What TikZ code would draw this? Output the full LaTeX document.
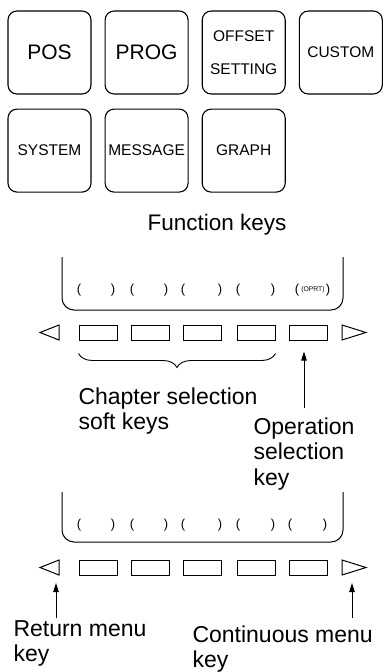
\documentclass[tikz,border=0pt]{standalone}
\usepackage{fontspec}
\setmainfont{Liberation Sans}
\usetikzlibrary{positioning,arrows.meta,decorations.pathreplacing}

\begin{document}
\begin{tikzpicture}[
    x=1pt, y=-1pt,
    line width=1pt,
    node distance=14pt and 13pt,
    fkey/.style={draw, line width=1.1pt, rounded corners=9pt, minimum width=83pt, minimum height=83pt, inner sep=0pt, align=center, font=\fontsize{15.5}{33}\selectfont},
    bigkey/.style={fkey, font=\fontsize{21}{25}\selectfont},
    softkey/.style={draw, minimum width=38pt, minimum height=15pt, inner sep=0pt},
    paren/.style={inner sep=0pt, font=\fontsize{13}{13}\selectfont},
    note/.style={inner sep=0pt, align=left, anchor=north west, font=\fontsize{23}{25.5}\selectfont},
    pointer/.style={-{Triangle[length=9pt, width=5.5pt]}}
  ]
    \useasboundingbox (0,0) rectangle (390,672);
    % function keys
    \node[bigkey] (pos) at (49.5,52.5) {POS};
    \node[bigkey, right=of pos] (prog) {PROG};
    \node[fkey, right=of prog] (offset) {OFFSET\\SETTING};
    \node[fkey, right=of offset] (custom) {CUSTOM};
    \node[fkey, below=of pos] (system) {SYSTEM};
    \node[fkey, below=of prog] (message) {MESSAGE};
    \node[fkey, below=of offset] (graph) {GRAPH};
    \node[anchor=base, inner sep=0pt, font=\fontsize{22.5}{26}\selectfont] (fkcap) at (217,230) {Function keys};

    % first screen with soft keys
    \draw[rounded corners=12pt] (62,257) -- (62,310) -- (343,310) -- (343,257);
    \foreach \i/\l/\r in {1/79/113, 2/132/166, 3/183/220, 4/238/273, 5/297/328} {
      \node[paren] (pl\i) at (\l,290) {(};
      \node[paren] (pr\i) at (\r,290) {)};
    }
    \node[inner sep=0pt, font=\fontsize{6.8}{7}\selectfont] (oprt) at (313,290) {(OPRT)};
    \foreach \i/\x in {1/98, 2/150, 3/202.5, 4/256, 5/308.5}
      \node[softkey] (ka\i) at (\x,332.5) {};
    \draw (59,325) -- (40,332.5) -- (59,340) -- cycle;
    \draw (342,325) -- (366,332.5) -- (342,340) -- cycle;

    \draw[line width=0.9pt, decorate, decoration={brace, mirror, amplitude=14pt}]
      ([yshift=-13pt]ka1.south west) -- ([yshift=-13pt]ka4.south east);
    \node[note] (chapter) at (78,387) {Chapter selection\\soft keys};
    \node[note] (oper) at (253,417) {Operation\\selection\\key};
    \coordinate (opfoot) at (304,408);
    \draw[pointer, shorten >=11pt] (opfoot) -- (opfoot |- ka5.south);

    % second screen
    \draw[rounded corners=12pt] (62,492) -- (62,542) -- (343,542) -- (343,492);
    \foreach \i/\l/\r in {1/79/113, 2/132/166, 3/183/220, 4/238/273, 5/290/325} {
      \node[paren] (ql\i) at (\l,525) {(};
      \node[paren] (qr\i) at (\r,525) {)};
    }
    \foreach \i/\x in {1/98, 2/150, 3/202.5, 4/256, 5/308.5}
      \node[softkey] (kb\i) at (\x,567.5) {};
    \draw (59,560) -- (40,567.5) -- (59,575) -- cycle;
    \draw (342,560) -- (366,567.5) -- (342,575) -- cycle;

    \node[note] (retn) at (13,620) {Return menu\\key};
    \node[note] (cont) at (192,625) {Continuous menu\\key};
    \coordinate (retfoot) at (56,618);
    \coordinate (rettip) at (56,583);
    \coordinate (contfoot) at (352,618);
    \coordinate (conttip) at (352,583);
    \draw[pointer] (retfoot) -- (rettip);
    \draw[pointer] (contfoot) -- (conttip);
  \end{tikzpicture}
\end{document}
